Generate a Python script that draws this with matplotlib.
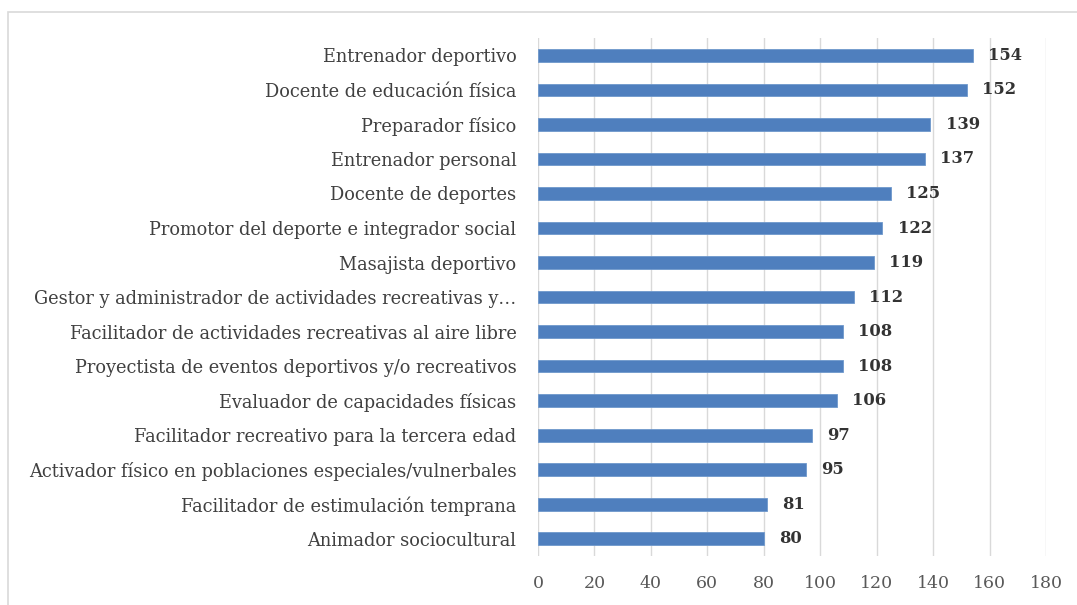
import matplotlib.pyplot as plt
from matplotlib.patches import Rectangle

# Data (top to bottom as shown)
roles = [
    'Entrenador deportivo',
    'Docente de educación física',
    'Preparador físico',
    'Entrenador personal',
    'Docente de deportes',
    'Promotor del deporte e integrador social',
    'Masajista deportivo',
    'Gestor y administrador de actividades recreativas y…',
    'Facilitador de actividades recreativas al aire libre',
    'Proyectista de eventos deportivos y/o recreativos',
    'Evaluador de capacidades físicas',
    'Facilitador recreativo para la tercera edad',
    'Activador físico en poblaciones especiales/vulnerbales',
    'Facilitador de estimulación temprana',
    'Animador sociocultural',
]
counts = [154, 152, 139, 137, 125, 122, 119, 112, 108, 108, 106, 97, 95, 81, 80]
x_ticks = [0, 20, 40, 60, 80, 100, 120, 140, 160, 180]

plt.rcParams['font.family'] = ['DejaVu Serif']

fig = plt.figure(figsize=(10.77, 6.05), dpi=100)
ax = fig.add_axes([0.4995, 0.081, 0.4717, 0.856])

# light frame around the whole chart
fig.patches.append(Rectangle((8 / 1077, -0.05), 1.2, 0.98 + 0.05,
                             transform=fig.transFigure, fill=False,
                             edgecolor='#d9d9d9', linewidth=1.2))

y = list(range(len(roles)))
ax.barh(y, counts, height=0.37, color='#4f7fbe', edgecolor='#6f98cc',
        linewidth=0.6, zorder=3)

for yi, v in zip(y, counts):
    ax.annotate(str(v), xy=(v, yi), xytext=(11, 0), textcoords='offset points',
                va='center', ha='left', fontsize=11.8, fontweight='bold',
                color='#333333')

ax.set_ylim(len(roles) - 0.5, -0.5)
ax.set_yticks(y)
ax.set_yticklabels(roles, fontsize=12.8, color='#404040')
ax.set_xlim(0, 180)
ax.set_xticks(x_ticks)
ax.set_xticklabels([str(t) for t in x_ticks], fontsize=12.5, color='#595959')

ax.grid(axis='x', color='#d9d9d9', linewidth=1, zorder=0)
for s in ax.spines.values():
    s.set_visible(False)
ax.tick_params(left=False, bottom=False)
ax.tick_params(axis='y', pad=12)
ax.tick_params(axis='x', pad=10)

fig.savefig('out.png', dpi=100, facecolor='white')
